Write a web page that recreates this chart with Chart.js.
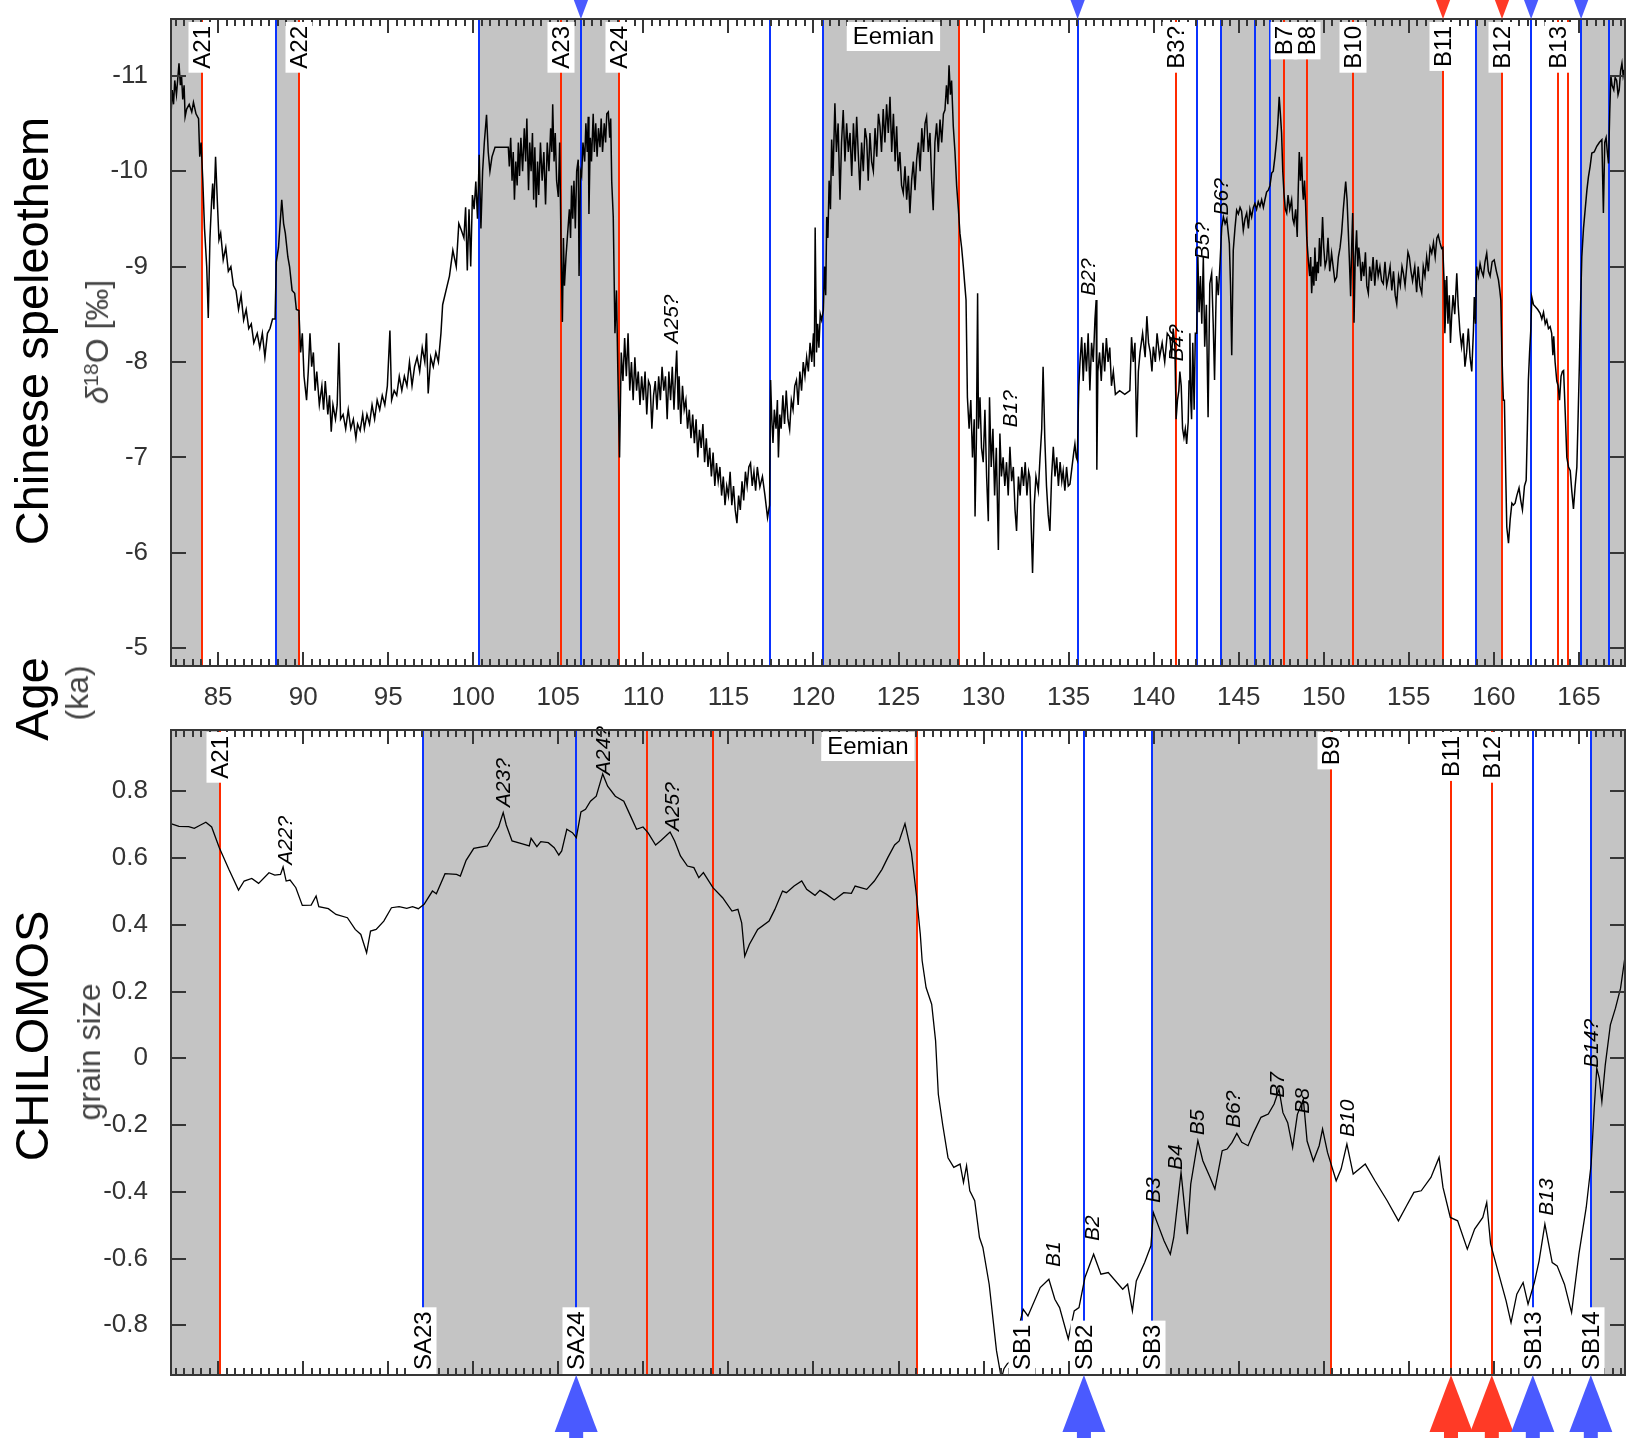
<!DOCTYPE html>
<html><head><meta charset="utf-8">
<script src="https://cdn.jsdelivr.net/npm/chart.js@4.4.1/dist/chart.umd.min.js"></script>
<style>
html,body{margin:0;padding:0;background:#fff;}
#wrap{position:relative;width:1641px;height:1445px;overflow:hidden;background:#fff;}
canvas{position:absolute;left:0;}
#cTop{top:0;width:1641px;height:720px;}
#cBot{top:700px;width:1641px;height:745px;}
.ttl{position:absolute;white-space:nowrap;line-height:1;transform:translate(-50%,-50%) rotate(-90deg);font-family:"Liberation Sans",Arial,Helvetica,sans-serif;}
.big{font-size:47px;color:#000;}
.sub{font-size:32px;color:#444;}
.sup{font-size:0.65em;position:relative;top:-0.5em;}
</style></head><body>
<div id="wrap">
<canvas id="cTop" width="1641" height="720"></canvas>
<canvas id="cBot" width="1641" height="745"></canvas>
<div class="ttl big" style="left:31px;top:331px">Chinese speleothem</div>
<div class="ttl sub" style="left:97px;top:342px"><i>δ</i><span class="sup">18</span>O [‰]</div>
<div class="ttl big" style="left:31px;top:699px">Age</div>
<div class="ttl sub" style="left:77px;top:693px">(ka)</div>
<div class="ttl big" style="left:31px;top:1036px">CHILOMOS</div>
<div class="ttl sub" style="left:89px;top:1052px">grain size</div>
</div>
<script>
// ---------------- data ----------------
const X_MIN = 82.23, X_MAX = 167.71;
const xTickValues = [85, 90, 95, 100, 105, 110, 115, 120, 125, 130, 135, 140, 145, 150, 155, 160, 165];
const topYTicks = [-11, -10, -9, -8, -7, -6, -5];
const TOP_Y_MIN = -11.594, TOP_Y_MAX = -4.814;
const botYTicks = [-0.8, -0.6, -0.4, -0.2, 0, 0.2, 0.4, 0.6, 0.8];
const botYTickLabels = ['-0.8', '-0.6', '-0.4', '-0.2', '0', '0.2', '0.4', '0.6', '0.8'];
const BOT_Y_MIN = -0.949, BOT_Y_MAX = 0.9835;

// Chinese speleothem d18O (ka, permil)
const speleoAge = [
82.22,82.3,82.38,82.45,82.55,82.62,82.7,82.78,82.85,82.92,
83.0,83.06,83.15,83.3,83.45,83.55,83.7,83.85,83.92,84.0,
84.1,84.2,84.33,84.42,84.52,84.62,84.68,84.75,84.85,84.95,
85.05,85.15,85.3,85.45,85.6,85.75,85.9,86.05,86.2,86.35,
86.5,86.65,86.8,86.95,87.1,87.3,87.45,87.6,87.75,87.9,
88.05,88.2,88.35,88.42,88.55,88.74,88.85,88.95,89.1,89.2,
89.35,89.5,89.6,89.75,89.85,89.95,90.05,90.2,90.3,90.4,
90.5,90.6,90.7,90.8,90.95,91.1,91.2,91.3,91.45,91.55,
91.65,91.75,91.9,92.0,92.1,92.2,92.35,92.5,92.65,92.8,
92.95,93.1,93.2,93.35,93.5,93.6,93.75,93.9,94.05,94.2,
94.35,94.5,94.65,94.8,94.95,95.1,95.2,95.35,95.5,95.65,
95.8,95.95,96.1,96.25,96.4,96.55,96.7,96.85,97.0,97.15,
97.25,97.35,97.5,97.65,97.8,97.95,98.1,98.2,98.4,98.6,
98.8,99.0,99.15,99.3,99.45,99.55,99.65,99.75,99.85,99.95,
100.05,100.15,100.25,100.35,100.45,100.55,100.65,100.78,100.88,100.98,
101.1,101.28,102.06,102.12,102.2,102.28,102.35,102.42,102.5,102.58,
102.65,102.72,102.8,102.9,103.0,103.08,103.15,103.25,103.32,103.4,
103.48,103.55,103.62,103.7,103.78,103.85,103.95,104.05,104.15,104.25,
104.35,104.45,104.55,104.62,104.67,104.75,104.82,104.9,105.0,105.08,
105.14,105.18,105.24,105.3,105.36,105.45,105.55,105.65,105.72,105.78,
105.85,105.92,106.0,106.08,106.17,106.22,106.3,106.37,106.45,106.55,
106.62,106.7,106.76,106.8,106.88,106.95,107.05,107.12,107.2,107.28,
107.36,107.45,107.52,107.6,107.7,107.78,107.85,107.94,108.02,108.08,
108.14,108.23,108.33,108.42,108.5,108.6,108.7,108.8,108.9,109.0,
109.1,109.2,109.3,109.4,109.5,109.6,109.7,109.8,109.9,110.0,
110.1,110.2,110.3,110.4,110.5,110.6,110.7,110.8,110.9,111.0,
111.1,111.2,111.3,111.4,111.5,111.6,111.7,111.8,111.9,111.96,
112.05,112.1,112.2,112.3,112.4,112.5,112.6,112.7,112.8,112.9,
113.0,113.1,113.2,113.3,113.4,113.5,113.6,113.7,113.8,113.9,
114.0,114.1,114.2,114.3,114.4,114.5,114.6,114.7,114.8,114.9,
115.0,115.1,115.2,115.3,115.4,115.5,115.6,115.7,115.8,115.9,
116.0,116.1,116.2,116.3,116.4,116.5,116.6,116.7,116.85,117.0,
117.15,117.3,117.42,117.48,117.55,117.62,117.7,117.8,117.88,117.94,
118.02,118.1,118.2,118.3,118.4,118.5,118.6,118.7,118.8,118.9,
119.0,119.1,119.2,119.3,119.4,119.5,119.6,119.7,119.8,119.9,
120.0,120.05,120.1,120.18,120.25,120.32,120.4,120.48,120.58,120.65,
120.72,120.78,120.85,120.92,121.0,121.07,121.15,121.26,121.35,121.45,
121.56,121.65,121.75,121.85,121.95,122.05,122.15,122.25,122.35,122.45,
122.54,122.63,122.73,122.83,122.93,123.03,123.13,123.22,123.32,123.42,
123.52,123.62,123.72,123.82,123.91,124.0,124.1,124.2,124.3,124.4,
124.5,124.6,124.7,124.8,124.89,124.98,125.08,125.18,125.28,125.38,
125.48,125.58,125.67,125.77,125.87,125.97,126.07,126.17,126.27,126.37,
126.47,126.56,126.65,126.75,126.85,126.95,127.04,127.14,127.24,127.34,
127.44,127.54,127.64,127.73,127.82,127.9,127.97,128.05,128.12,128.22,
128.32,128.42,128.52,128.61,128.71,128.81,128.9,128.97,129.05,129.15,
129.25,129.35,129.45,129.5,129.58,129.65,129.7,129.79,129.88,129.98,
130.08,130.18,130.28,130.35,130.45,130.55,130.65,130.75,130.87,130.96,
131.05,131.15,131.25,131.35,131.45,131.55,131.65,131.75,131.85,131.94,
132.05,132.15,132.25,132.35,132.45,132.55,132.65,132.72,132.88,132.98,
133.08,133.22,133.32,133.42,133.5,133.6,133.7,133.8,133.9,134.0,
134.1,134.2,134.3,134.4,134.5,134.6,134.68,134.78,134.88,134.98,
135.08,135.2,135.3,135.37,135.45,135.51,135.6,135.67,135.77,135.86,
135.95,136.05,136.15,136.25,136.35,136.45,136.55,136.62,136.66,136.72,
136.82,136.92,137.02,137.12,137.22,137.32,137.42,137.52,137.63,137.75,
138.0,138.3,138.6,138.7,138.8,138.9,139.0,139.1,139.2,139.35,
139.5,139.6,139.7,139.8,139.9,139.98,140.1,140.2,140.35,140.5,
140.65,140.8,140.96,141.05,141.15,141.25,141.32,141.4,141.48,141.54,
141.62,141.7,141.78,141.86,141.94,142.03,142.08,142.13,142.18,142.23,
142.3,142.38,142.45,142.53,142.6,142.67,142.75,142.83,142.92,143.0,
143.1,143.2,143.3,143.41,143.5,143.58,143.65,143.7,143.8,143.9,
144.0,144.1,144.2,144.3,144.45,144.52,144.59,144.68,144.78,144.88,
144.98,145.08,145.17,145.27,145.37,145.47,145.57,145.66,145.76,145.86,
145.95,146.05,146.15,146.25,146.35,146.45,146.54,146.64,146.74,146.84,
146.94,147.03,147.13,147.23,147.3,147.38,147.45,147.52,147.59,147.66,
147.74,147.82,147.9,148.0,148.11,148.18,148.25,148.35,148.44,148.5,
148.56,148.63,148.7,148.76,148.8,148.87,148.93,149.0,149.09,149.17,
149.23,149.29,149.36,149.42,149.48,149.55,149.62,149.68,149.75,149.82,
149.93,150.0,150.08,150.17,150.25,150.35,150.46,150.55,150.65,150.76,
150.86,150.96,151.05,151.15,151.22,151.29,151.37,151.44,151.5,151.58,
151.64,151.7,151.75,151.78,151.85,151.93,152.0,152.06,152.13,152.2,
152.28,152.36,152.45,152.53,152.62,152.7,152.8,152.9,153.0,153.11,
153.2,153.3,153.4,153.5,153.6,153.7,153.8,153.9,154.0,154.1,
154.2,154.29,154.4,154.5,154.6,154.68,154.78,154.88,154.95,155.03,
155.13,155.22,155.35,155.46,155.55,155.65,155.76,155.85,155.95,156.05,
156.15,156.25,156.35,156.45,156.55,156.65,156.73,156.83,156.93,157.0,
157.07,157.12,157.18,157.23,157.3,157.38,157.45,157.52,157.6,157.7,
157.82,157.9,158.0,158.1,158.2,158.3,158.4,158.5,158.6,158.7,
158.8,158.85,158.92,158.99,159.09,159.19,159.28,159.38,159.48,159.58,
159.68,159.78,159.9,160.02,160.15,160.27,160.35,160.41,160.47,160.52,
160.56,160.62,160.7,160.76,160.86,160.96,161.06,161.15,161.25,161.35,
161.48,161.58,161.68,161.8,161.9,161.97,162.03,162.1,162.17,162.23,
162.33,162.43,162.58,162.72,162.82,162.92,163.02,163.11,163.21,163.31,
163.4,163.47,163.52,163.6,163.7,163.78,163.86,163.95,164.03,164.1,
164.2,164.29,164.39,164.49,164.58,164.68,164.78,164.88,164.95,165.03,
165.1,165.17,165.27,165.37,165.47,165.56,165.66,165.76,165.9,166.05,
166.2,166.35,166.44,166.52,166.6,166.67,166.74,166.81,166.88,166.95,
167.05,167.13,167.22,167.3,167.37,167.45,167.53,167.6,167.66
];
const speleoD18O = [
-10.55,-10.85,-10.7,-10.95,-10.8,-10.95,-11.13,-10.9,-11.0,-10.75,
-10.9,-10.57,-10.65,-10.7,-10.62,-10.72,-10.6,-10.55,-10.15,-10.3,
-9.9,-9.4,-9.0,-8.46,-9.3,-9.7,-9.87,-9.6,-10.15,-9.7,
-9.28,-9.35,-9.07,-9.2,-8.95,-9.0,-8.8,-8.75,-8.55,-8.7,
-8.44,-8.55,-8.35,-8.4,-8.2,-8.3,-8.15,-8.3,-8.05,-8.3,
-8.35,-8.45,-8.45,-9.05,-9.2,-9.7,-9.45,-9.35,-9.1,-9.0,
-8.75,-8.72,-8.55,-8.54,-8.1,-8.3,-7.85,-7.6,-7.9,-8.3,
-7.95,-8.1,-7.7,-7.9,-7.55,-7.75,-7.5,-7.8,-7.45,-7.65,
-7.27,-7.55,-7.4,-7.55,-8.2,-7.4,-7.45,-7.3,-7.5,-7.3,
-7.4,-7.2,-7.35,-7.28,-7.45,-7.3,-7.45,-7.35,-7.55,-7.4,
-7.6,-7.5,-7.65,-7.55,-7.75,-8.33,-7.6,-7.7,-7.65,-7.85,
-7.7,-7.85,-7.75,-8.0,-7.75,-7.95,-8.05,-7.9,-8.15,-8.0,
-8.3,-7.67,-8.05,-7.95,-8.1,-8.0,-8.3,-8.6,-8.75,-8.9,
-9.17,-9.0,-9.45,-9.38,-9.3,-9.62,-8.96,-9.6,-9.0,-9.75,
-9.6,-9.89,-9.5,-10.17,-9.4,-10.0,-10.3,-10.59,-10.2,-10.0,
-10.15,-10.25,-10.25,-10.05,-10.35,-9.9,-10.2,-9.7,-10.1,-9.85,
-10.3,-9.95,-10.35,-10.0,-10.45,-10.1,-10.55,-9.8,-10.3,-10.0,
-10.4,-9.7,-10.25,-9.62,-10.1,-9.75,-10.3,-9.9,-10.2,-9.65,
-10.3,-10.0,-10.45,-10.2,-10.7,-10.1,-10.4,-9.9,-9.73,-10.3,
-9.5,-9.0,-8.42,-9.3,-8.8,-9.1,-9.35,-9.6,-9.3,-9.85,
-9.5,-9.9,-9.4,-10.0,-10.12,-8.9,-10.0,-9.95,-10.3,-10.1,
-10.5,-10.2,-10.57,-9.55,-10.35,-10.1,-10.6,-10.2,-10.5,-10.15,
-10.45,-10.25,-10.55,-10.2,-10.5,-10.3,-10.6,-10.62,-10.35,-10.55,
-9.89,-9.52,-8.3,-8.75,-7.9,-7.0,-8.1,-7.8,-8.25,-7.85,
-8.3,-7.7,-8.0,-7.6,-8.05,-7.7,-7.9,-7.55,-7.85,-7.6,
-7.9,-7.45,-7.8,-7.75,-7.3,-7.65,-7.8,-7.5,-7.85,-7.6,
-7.95,-7.7,-7.85,-7.4,-7.9,-7.6,-7.95,-7.5,-7.9,-8.12,
-7.5,-7.85,-7.35,-7.75,-7.5,-7.6,-7.3,-7.5,-7.2,-7.45,
-7.15,-7.4,-7.0,-7.29,-7.1,-7.35,-6.95,-7.2,-6.9,-7.1,
-6.8,-7.05,-6.7,-6.94,-6.75,-6.9,-6.6,-6.8,-6.5,-6.7,
-6.6,-6.85,-6.5,-6.7,-6.45,-6.31,-6.6,-6.45,-6.75,-6.55,
-6.85,-6.7,-6.9,-6.94,-6.7,-6.85,-6.65,-6.9,-6.69,-6.8,
-6.6,-6.37,-6.5,-7.81,-7.4,-7.15,-7.5,-7.3,-7.6,-7.0,
-7.45,-7.3,-7.65,-7.35,-7.7,-7.4,-7.29,-7.6,-7.5,-7.75,
-7.81,-7.55,-7.9,-7.7,-8.0,-7.85,-8.05,-7.9,-8.2,-8.0,
-8.3,-7.95,-9.41,-8.1,-8.4,-8.15,-8.5,-8.44,-8.54,-9.0,
-8.7,-9.52,-9.3,-9.9,-9.6,-10.33,-9.95,-10.71,-10.2,-10.5,
-9.7,-10.3,-10.64,-10.1,-10.5,-10.2,-10.4,-9.95,-10.5,-10.1,
-10.57,-10.2,-9.8,-10.3,-10.0,-10.45,-10.33,-9.9,-10.4,-10.1,
-10.0,-10.45,-10.15,-10.6,-10.47,-10.2,-10.65,-10.3,-10.7,-10.4,
-10.78,-10.2,-10.6,-10.1,-10.47,-10.0,-10.2,-9.85,-9.77,-10.05,
-9.7,-9.95,-9.56,-9.9,-10.1,-9.8,-10.13,-10.3,-10.0,-10.45,
-10.2,-10.5,-10.57,-10.2,-10.4,-9.9,-9.59,-10.3,-10.5,-10.2,
-10.54,-10.3,-10.6,-10.64,-10.9,-10.7,-11.11,-10.8,-10.95,-10.47,
-10.2,-9.84,-9.6,-9.35,-9.2,-9.0,-8.8,-8.65,-7.63,-7.3,
-7.6,-7.0,-7.4,-6.38,-7.2,-8.72,-7.3,-7.63,-7.1,-6.95,
-7.5,-6.8,-6.33,-7.63,-6.9,-7.3,-6.6,-7.1,-6.03,-7.25,
-6.8,-7.0,-6.7,-6.95,-6.6,-7.11,-6.75,-6.9,-6.45,-6.23,
-6.8,-6.6,-6.9,-6.7,-6.95,-6.6,-6.85,-6.79,-5.79,-6.5,
-6.8,-6.65,-7.0,-7.3,-7.95,-7.2,-6.7,-6.4,-6.23,-6.8,
-7.11,-6.8,-7.0,-6.7,-6.95,-6.75,-6.86,-6.65,-6.9,-6.7,
-6.72,-6.9,-7.05,-7.14,-7.0,-6.97,-7.74,-8.0,-8.26,-7.8,
-8.2,-7.9,-8.3,-7.7,-8.2,-8.0,-8.45,-8.65,-6.87,-7.9,
-8.1,-7.8,-8.2,-7.9,-8.25,-8.0,-8.15,-7.75,-7.9,-7.66,
-7.7,-7.66,-7.7,-8.26,-8.0,-8.2,-7.21,-7.9,-8.1,-8.3,
-8.05,-8.48,-8.2,-8.1,-7.9,-8.16,-8.0,-8.3,-8.05,-8.2,
-8.0,-8.3,-8.26,-8.05,-8.35,-8.15,-7.4,-7.6,-7.7,-7.9,
-7.75,-7.3,-7.21,-7.3,-7.14,-7.37,-7.8,-8.3,-7.6,-7.4,
-8.2,-7.5,-8.3,-8.3,-9.1,-8.52,-8.9,-8.4,-9.1,-8.16,
-8.6,-7.42,-8.82,-8.93,-8.4,-7.81,-8.5,-8.9,-8.7,-9.03,
-9.41,-9.52,-9.45,-9.5,-9.24,-8.8,-8.07,-9.17,-9.4,-9.59,
-9.55,-9.62,-9.58,-9.38,-9.5,-9.56,-9.4,-9.6,-9.52,-9.62,
-9.66,-9.6,-9.68,-9.63,-9.7,-9.62,-9.7,-9.78,-9.8,-9.85,
-9.98,-10.0,-10.15,-10.33,-10.5,-10.78,-10.6,-10.4,-10.0,-9.77,
-9.6,-9.56,-9.75,-9.6,-9.7,-9.5,-9.45,-9.6,-9.31,-9.8,
-10.2,-9.9,-10.15,-9.8,-9.7,-9.9,-9.66,-9.3,-9.07,-8.9,
-9.1,-8.72,-9.0,-8.8,-9.2,-8.85,-9.05,-8.93,-9.3,-9.0,
-9.52,-9.2,-9.0,-9.07,-9.3,-8.95,-9.14,-9.0,-8.85,-8.89,
-9.1,-9.2,-9.35,-9.6,-9.75,-9.89,-9.7,-9.38,-9.1,-8.69,
-9.2,-9.56,-9.0,-8.41,-9.1,-9.38,-9.0,-9.2,-9.07,-8.85,
-9.05,-8.9,-9.15,-8.8,-8.72,-9.0,-8.85,-9.1,-8.8,-9.07,
-8.9,-9.0,-8.85,-8.82,-9.05,-8.8,-8.89,-9.0,-8.75,-8.95,
-8.7,-8.61,-8.9,-8.8,-9.0,-8.93,-8.8,-9.0,-9.15,-9.1,
-8.95,-8.85,-9.0,-8.73,-9.0,-8.8,-8.72,-9.0,-8.9,-9.1,
-8.95,-9.2,-9.14,-9.25,-9.1,-9.3,-9.33,-9.25,-9.19,-9.2,
-8.86,-8.3,-8.6,-8.9,-8.4,-8.7,-8.2,-8.48,-8.7,-8.5,
-8.93,-8.6,-8.33,-8.16,-8.3,-7.95,-8.1,-8.35,-8.05,-7.9,
-8.33,-8.68,-8.4,-9.0,-8.9,-9.03,-8.95,-8.9,-9.05,-9.14,
-8.95,-8.9,-9.05,-9.07,-8.95,-8.86,-8.75,-8.65,-8.12,-7.8,
-7.6,-7.6,-6.8,-6.27,-6.1,-6.35,-6.52,-6.5,-6.52,-6.6,
-6.68,-6.55,-6.45,-6.7,-6.76,-7.3,-7.81,-8.1,-8.33,-8.68,
-8.6,-8.58,-8.55,-8.51,-8.45,-8.52,-8.4,-8.44,-8.35,-8.37,
-8.3,-8.07,-8.27,-8.0,-7.8,-7.75,-7.6,-7.85,-7.9,-7.91,
-7.45,-7.0,-6.9,-6.86,-6.65,-6.46,-6.7,-6.9,-7.4,-7.99,
-8.6,-9.1,-9.4,-9.6,-9.8,-9.94,-10.05,-10.19,-10.2,-10.26,
-10.3,-10.33,-9.56,-10.3,-10.35,-10.2,-10.08,-10.6,-11.0,-10.9,
-10.85,-10.98,-10.95,-10.8,-10.85,-11.05,-11.13,-11.0,-11.06
];

// CHILOMOS grain size (ka, normalized)
const grainAge = [
82.26,82.7,83.27,83.6,83.94,84.28,84.62,85.07,85.63,86.2,
86.53,86.98,87.38,87.99,88.33,88.67,88.82,89.0,89.23,89.57,
89.95,90.47,90.76,90.92,91.48,91.93,92.6,93.06,93.39,93.73,
93.96,94.29,94.74,95.19,95.64,96.09,96.43,96.77,97.11,97.6,
97.83,98.34,99.02,99.24,99.58,100.03,100.82,101.16,101.49,101.76,
101.94,102.28,102.84,103.29,103.4,103.74,103.97,104.41,104.76,105.03,
105.2,105.5,105.83,106.06,106.33,106.6,106.89,107.23,107.61,107.9,
108.35,108.85,109.21,109.6,109.98,110.27,110.72,111.05,111.57,111.84,
112.18,112.59,112.97,113.26,113.53,114.09,114.66,115.21,115.56,115.78,
115.96,116.23,116.72,117.39,117.73,118.18,118.41,118.86,119.31,119.6,
120.09,120.38,120.77,121.22,121.78,122.23,122.45,123.13,123.58,124.03,
124.37,124.77,125.04,125.38,125.76,126.06,126.28,126.39,126.62,126.95,
127.18,127.34,127.6,127.91,128.25,128.62,128.82,129.0,129.19,129.48,
129.76,129.96,130.33,130.76,131.05,131.2,131.39,131.62,131.8,132.1,
132.33,132.61,133.33,133.84,134.19,134.47,134.98,135.33,135.61,135.96,
136.47,136.9,137.33,138.18,138.47,138.75,138.98,139.47,139.84,139.98,
140.24,140.61,140.98,141.18,141.61,141.98,142.18,142.6,142.89,143.32,
143.6,144.03,144.32,144.61,144.89,145.18,145.55,145.88,146.31,146.74,
147.08,147.37,147.6,147.88,148.17,148.45,148.8,149.02,149.39,149.73,
149.93,150.22,150.73,151.02,151.36,151.73,152.44,153.01,153.73,154.39,
154.87,155.3,155.73,156.3,156.78,157.01,157.44,157.87,158.44,158.87,
159.35,159.58,159.81,160.29,160.72,161.01,161.35,161.72,162.01,162.38,
162.66,163.0,163.43,163.72,164.15,164.57,165.0,165.43,165.72,165.9,
166.05,166.2,166.35,166.55,166.85,167.15,167.45,167.7
];
const grainSize = [
0.702,0.695,0.694,0.689,0.698,0.707,0.693,0.631,0.566,0.504,
0.531,0.539,0.524,0.556,0.549,0.551,0.573,0.531,0.534,0.511,
0.458,0.459,0.486,0.454,0.448,0.431,0.421,0.386,0.371,0.316,
0.381,0.386,0.411,0.451,0.454,0.449,0.454,0.448,0.461,0.501,
0.493,0.553,0.551,0.546,0.593,0.629,0.636,0.666,0.693,0.736,
0.699,0.651,0.643,0.636,0.659,0.634,0.649,0.646,0.631,0.609,
0.621,0.686,0.676,0.661,0.738,0.746,0.770,0.785,0.852,0.815,
0.785,0.770,0.730,0.686,0.693,0.676,0.639,0.653,0.678,0.651,
0.606,0.576,0.571,0.541,0.556,0.511,0.481,0.441,0.446,0.406,
0.306,0.341,0.386,0.411,0.446,0.501,0.496,0.516,0.531,0.506,
0.488,0.503,0.491,0.474,0.496,0.494,0.516,0.506,0.531,0.566,
0.601,0.639,0.651,0.703,0.616,0.486,0.372,0.292,0.212,0.162,
0.052,-0.108,-0.2,-0.298,-0.327,-0.317,-0.372,-0.322,-0.397,-0.427,
-0.537,-0.567,-0.677,-0.876,-0.96,-0.93,-0.916,-0.906,-0.93,-0.8,
-0.752,-0.772,-0.687,-0.662,-0.722,-0.747,-0.841,-0.757,-0.747,-0.657,
-0.587,-0.647,-0.642,-0.692,-0.677,-0.757,-0.667,-0.612,-0.562,-0.462,
-0.497,-0.547,-0.587,-0.537,-0.342,-0.527,-0.377,-0.247,-0.307,-0.357,
-0.392,-0.277,-0.272,-0.252,-0.225,-0.252,-0.262,-0.222,-0.177,-0.167,
-0.137,-0.093,-0.163,-0.193,-0.268,-0.168,-0.123,-0.248,-0.308,-0.262,
-0.212,-0.282,-0.367,-0.332,-0.257,-0.347,-0.317,-0.367,-0.427,-0.487,
-0.442,-0.402,-0.397,-0.357,-0.297,-0.387,-0.477,-0.487,-0.572,-0.512,
-0.477,-0.432,-0.557,-0.647,-0.727,-0.792,-0.707,-0.672,-0.737,-0.672,
-0.607,-0.497,-0.612,-0.622,-0.677,-0.762,-0.587,-0.447,-0.317,-0.15,
-0.03,-0.06,-0.13,-0.02,0.10,0.15,0.21,0.30
];

// events / annotations, top panel (ka)
const topShadeFrom = [82.23, 88.40, 100.34, 120.54, 143.96, 158.95, 165.13];
const topShadeTo   = [84.03, 89.75, 108.57, 128.55, 157.01, 160.48, 167.71];
const topBlueAges = [88.40, 100.34, 106.33, 117.44, 120.54, 135.53, 142.56, 143.96, 145.95, 146.84, 158.95, 162.19, 165.13, 166.78];
const topRedAges = [84.03, 89.75, 105.14, 108.57, 128.55, 141.31, 147.66, 148.99, 151.70, 157.01, 160.48, 163.78, 164.37];
const topBoxAges = [84.03, 89.75, 105.14, 108.57, 141.31, 147.66, 148.99, 151.70, 157.01, 160.48, 163.78];
const topBoxTexts = ['A21', 'A22', 'A23', 'A24', 'B3?', 'B7', 'B8', 'B10', 'B11', 'B12', 'B13'];
const topItalAges = [111.7, 131.65, 136.21, 141.39, 142.92, 144.0];
const topItalVals = [-8.45, -7.51, -8.89, -8.2, -9.27, -9.73];
const topItalTexts = ['A25?', 'B1?', 'B2?', 'B4?', 'B5?', 'B6?'];
const topEemianAge = 124.7;
const topArrowAges = [106.33, 135.53, 157.01, 160.48, 162.19, 165.13];
const topArrowKinds = ['blue', 'blue', 'red', 'red', 'blue', 'blue'];

// events / annotations, bottom panel (ka)
const botShadeFrom = [82.23, 97.06, 139.89, 165.70];
const botShadeTo   = [85.10, 126.06, 150.45, 167.71];
const botBlueAges = [97.06, 106.05, 132.27, 135.90, 139.89, 162.29, 165.70];
const botRedAges = [85.10, 110.24, 114.07, 126.06, 150.45, 157.48, 159.88];
const botTopBoxAges = [85.10, 150.45, 157.48, 159.88];
const botTopBoxTexts = ['A21', 'B9', 'B11', 'B12'];
const botLowBoxAges = [97.06, 106.05, 132.27, 135.90, 139.89, 162.29, 165.70];
const botLowBoxTexts = ['SA23', 'SA24', 'SB1', 'SB2', 'SB3', 'SB13', 'SB14'];
const botItalAges = [88.99, 101.83, 107.7, 111.75, 134.13, 136.47, 140.04, 141.3, 142.6, 144.74, 147.3, 148.8, 151.45, 163.15, 165.8];
const botItalVals = [0.653, 0.826, 0.922, 0.754, -0.587, -0.509, -0.395, -0.296, -0.192, -0.153, -0.08, -0.128, -0.18, -0.416, 0.045];
const botItalTexts = ['A22?', 'A23?', 'A24?', 'A25?', 'B1', 'B2', 'B3', 'B4', 'B5', 'B6?', 'B7', 'B8', 'B10', 'B13', 'B14?'];
const botEemianAge = 123.2;
const botArrowAges = [106.05, 135.90, 157.48, 159.88, 162.29, 165.70];
const botArrowKinds = ['blue', 'blue', 'red', 'red', 'blue', 'blue'];

// ---------------- styling ----------------
const FONT = '"Liberation Sans", Arial, Helvetica, sans-serif';
const SHADE = '#c4c4c4';
const RED = '#ff2a00';
const BLUE = '#0b33ff';
const ARROW = { blue: '#4a5aff', red: '#ff3a26' };
const AXIS = '#363636';

function vBox(ctx, px, top, bottom, text) {
  ctx.font = '24px ' + FONT;
  const w = ctx.measureText(text).width;
  const bw = 27, bh = w + 8;
  const t = (top !== null) ? top : bottom - bh;
  ctx.fillStyle = '#fff';
  ctx.fillRect(px - bw / 2, t, bw, bh);
  ctx.save();
  ctx.translate(px + 1, t + bh / 2);
  ctx.rotate(-Math.PI / 2);
  ctx.fillStyle = '#000';
  ctx.textAlign = 'center';
  ctx.textBaseline = 'middle';
  ctx.fillText(text, 0, 0);
  ctx.restore();
}
function hBox(ctx, px, top, text) {
  ctx.font = '24px ' + FONT;
  const w = ctx.measureText(text).width;
  const bw = w + 12, bh = 29;
  ctx.fillStyle = '#fff';
  ctx.fillRect(px - bw / 2, top, bw, bh);
  ctx.fillStyle = '#000';
  ctx.textAlign = 'center';
  ctx.textBaseline = 'middle';
  ctx.fillText(text, px, top + bh / 2 + 1);
}
function italLabel(ctx, px, py, text) {
  ctx.save();
  ctx.font = 'italic 21px ' + FONT;
  ctx.translate(px, py);
  ctx.rotate(-Math.PI / 2);
  ctx.fillStyle = '#000';
  ctx.textAlign = 'center';
  ctx.textBaseline = 'middle';
  ctx.fillText(text, 0, 0);
  ctx.restore();
}

function makeOverlay(cfg) {
  return {
    id: 'overlay' + cfg.key,
    beforeDatasetsDraw(chart) {
      const { ctx, chartArea: a, scales: { x } } = chart;
      ctx.save();
      ctx.beginPath();
      ctx.rect(a.left, a.top, a.right - a.left, a.bottom - a.top);
      ctx.clip();
      ctx.fillStyle = SHADE;
      cfg.shadeFrom.forEach((s, i) => {
        const x0 = x.getPixelForValue(s), x1 = x.getPixelForValue(cfg.shadeTo[i]);
        ctx.fillRect(x0, a.top, x1 - x0, a.bottom - a.top);
      });
      ctx.lineWidth = 2;
      const vline = (v, c) => {
        const px = Math.round(x.getPixelForValue(v));
        ctx.strokeStyle = c;
        ctx.beginPath(); ctx.moveTo(px, a.top); ctx.lineTo(px, a.bottom); ctx.stroke();
      };
      cfg.blue.forEach(v => vline(v, BLUE));
      cfg.red.forEach(v => vline(v, RED));
      ctx.restore();
    },
    afterDatasetsDraw(chart) {
      const { ctx, chartArea: a, scales: { x, y } } = chart;
      ctx.save();
      // inward tick marks
      ctx.strokeStyle = AXIS;
      ctx.lineWidth = 2;
      ctx.beginPath();
      const majors = new Set(xTickValues.map(v => Math.round(v * 2)));
      for (let k = Math.ceil(X_MIN * 2); k <= Math.floor(X_MAX * 2); k++) {
        const px = Math.round(x.getPixelForValue(k / 2));
        const len = majors.has(k) ? 14 : 7;
        ctx.moveTo(px, a.bottom); ctx.lineTo(px, a.bottom - len);
        ctx.moveTo(px, a.top); ctx.lineTo(px, a.top + len);
      }
      cfg.yTicks.forEach(v => {
        const py = Math.round(y.getPixelForValue(v));
        ctx.moveTo(a.left, py); ctx.lineTo(a.left + 15, py);
        ctx.moveTo(a.right, py); ctx.lineTo(a.right - 15, py);
      });
      ctx.stroke();
      // boxed labels
      cfg.topBoxAges.forEach((v, i) => vBox(ctx, Math.round(x.getPixelForValue(v)), a.top + cfg.boxGap, null, cfg.topBoxTexts[i]));
      (cfg.lowBoxAges || []).forEach((v, i) => vBox(ctx, Math.round(x.getPixelForValue(v)), null, a.bottom - 1, cfg.lowBoxTexts[i]));
      hBox(ctx, x.getPixelForValue(cfg.eemian), a.top + cfg.boxGap, 'Eemian');
      // italic annotations
      cfg.italAges.forEach((v, i) => italLabel(ctx, x.getPixelForValue(v), y.getPixelForValue(cfg.italVals[i]), cfg.italTexts[i]));
      // frame
      ctx.lineWidth = 2;
      ctx.strokeStyle = AXIS;
      ctx.strokeRect(a.left, a.top, a.right - a.left, a.bottom - a.top);
      // arrows
      cfg.arrowAges.forEach((v, i) => {
        const px = x.getPixelForValue(v);
        ctx.fillStyle = ARROW[cfg.arrowKinds[i]];
        ctx.beginPath();
        if (cfg.arrowDir === 'down') {
          ctx.moveTo(px, a.top); ctx.lineTo(px - 7.5, a.top - 20); ctx.lineTo(px + 7.5, a.top - 20);
          ctx.closePath(); ctx.fill();
        } else {
          ctx.moveTo(px, a.bottom); ctx.lineTo(px + 21.5, a.bottom + 57); ctx.lineTo(px - 21.5, a.bottom + 57);
          ctx.closePath(); ctx.fill();
          ctx.fillRect(px - 7, a.bottom + 56, 14, 7);
        }
      });
      ctx.restore();
    }
  };
}

const tickFont = { family: FONT, size: 26 };
const noPad = s => { s.paddingTop = 0; s.paddingBottom = 0; s.paddingLeft = 0; s.paddingRight = 0; };

new Chart(document.getElementById('cTop'), {
  type: 'line',
  data: { datasets: [{
    data: speleoAge.map((t, i) => ({ x: t, y: speleoD18O[i] })),
    borderColor: '#000', borderWidth: 1.5, pointRadius: 0, tension: 0, fill: false
  }] },
  options: {
    responsive: false, animation: false, devicePixelRatio: 1, events: [],
    layout: { padding: { top: 19, right: 16, left: 0, bottom: 0 } },
    plugins: { legend: { display: false }, tooltip: { enabled: false } },
    scales: {
      x: {
        type: 'linear', min: X_MIN, max: X_MAX,
        grid: { display: false, drawTicks: false }, border: { display: false },
        afterBuildTicks: s => { s.ticks = xTickValues.map(v => ({ value: v })); },
        afterFit: s => { s.height = 54; noPad(s); },
        ticks: { autoSkip: false, maxRotation: 0, minRotation: 0, padding: 16, color: '#333', font: tickFont, callback: v => String(v) }
      },
      y: {
        type: 'linear', reverse: true, min: TOP_Y_MIN, max: TOP_Y_MAX,
        grid: { display: false, drawTicks: false }, border: { display: false },
        afterBuildTicks: s => { s.ticks = topYTicks.map(v => ({ value: v })); },
        afterFit: s => { s.width = 171; noPad(s); },
        ticks: { padding: 23, color: '#333', font: tickFont, callback: v => String(v) }
      }
    }
  },
  plugins: [makeOverlay({
    key: 'Top', shadeFrom: topShadeFrom, shadeTo: topShadeTo, blue: topBlueAges, red: topRedAges,
    yTicks: topYTicks, boxGap: 3, topBoxAges: topBoxAges, topBoxTexts: topBoxTexts,
    eemian: topEemianAge, italAges: topItalAges, italVals: topItalVals, italTexts: topItalTexts,
    arrowAges: topArrowAges, arrowKinds: topArrowKinds, arrowDir: 'down'
  })]
});

new Chart(document.getElementById('cBot'), {
  type: 'line',
  data: { datasets: [{
    data: grainAge.map((t, i) => ({ x: t, y: grainSize[i] })),
    borderColor: '#000', borderWidth: 1.3, pointRadius: 0, tension: 0, fill: false
  }] },
  options: {
    responsive: false, animation: false, devicePixelRatio: 1, events: [],
    layout: { padding: { top: 30, right: 16, left: 0, bottom: 70 } },
    plugins: { legend: { display: false }, tooltip: { enabled: false } },
    scales: {
      x: { type: 'linear', min: X_MIN, max: X_MAX, display: false },
      y: {
        type: 'linear', min: BOT_Y_MIN, max: BOT_Y_MAX,
        grid: { display: false, drawTicks: false }, border: { display: false },
        afterBuildTicks: s => { s.ticks = botYTicks.map(v => ({ value: v })); },
        afterFit: s => { s.width = 171; noPad(s); },
        ticks: { padding: 23, color: '#333', font: tickFont,
          callback: v => { const i = botYTicks.findIndex(t => Math.abs(t - v) < 1e-9); return i >= 0 ? botYTickLabels[i] : ''; } }
      }
    }
  },
  plugins: [makeOverlay({
    key: 'Bot', shadeFrom: botShadeFrom, shadeTo: botShadeTo, blue: botBlueAges, red: botRedAges,
    yTicks: botYTicks, boxGap: 2, topBoxAges: botTopBoxAges, topBoxTexts: botTopBoxTexts,
    lowBoxAges: botLowBoxAges, lowBoxTexts: botLowBoxTexts,
    eemian: botEemianAge, italAges: botItalAges, italVals: botItalVals, italTexts: botItalTexts,
    arrowAges: botArrowAges, arrowKinds: botArrowKinds, arrowDir: 'up'
  })]
});
</script>
</body></html>
